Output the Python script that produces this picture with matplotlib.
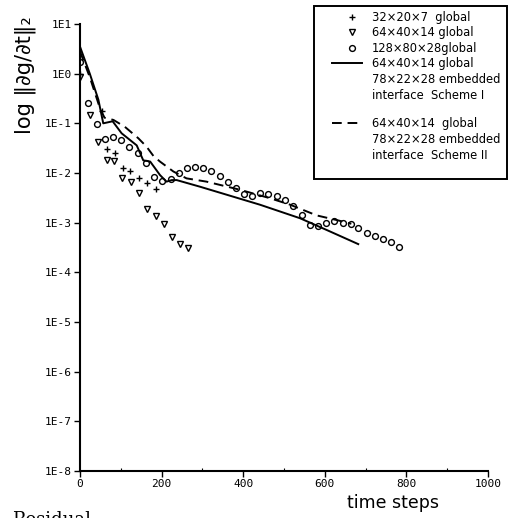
import numpy as np
import matplotlib
matplotlib.use("Agg")
import matplotlib.pyplot as plt
from matplotlib.patches import Rectangle
from matplotlib.ticker import FixedLocator, FuncFormatter, MultipleLocator

# ---- data ----
steps_32 = [0, 53, 65, 86, 105, 123, 145, 165, 186]
res_32 = [1.0, 0.18, 0.031, 0.025, 0.0124, 0.011, 0.0081, 0.0062, 0.0048]

steps_64 = [0, 24, 45, 65, 84, 103, 124, 145, 165, 186, 206, 226, 245, 264]
res_64 = [0.87, 0.15, 0.043, 0.018, 0.0177, 0.0081, 0.0065, 0.0040, 0.0019,
          0.00136, 0.00093, 0.00051, 0.00037, 0.00031]

steps_128 = [0, 20, 41, 61, 80, 100, 120, 141, 161, 182, 202, 222, 242, 262,
             282, 302, 322, 342, 362, 382, 402, 422, 441, 462, 482, 502, 523,
             543, 564, 583, 603, 623, 644, 663, 682, 703, 723, 743, 762, 782]
res_128 = [1.7, 0.26, 0.097, 0.048, 0.054, 0.046, 0.034, 0.025, 0.016, 0.0085,
           0.0070, 0.0076, 0.0102, 0.0124, 0.0134, 0.0128, 0.0112, 0.0089,
           0.0066, 0.0050, 0.0037, 0.0035, 0.0039, 0.0038, 0.0035, 0.0028,
           0.0022, 0.00143, 0.00090, 0.00086, 0.00098, 0.00107, 0.0010,
           0.00093, 0.00077, 0.00063, 0.00054, 0.00047, 0.00040, 0.00033]

steps_s1 = [0, 24, 45, 57, 80, 102, 139, 155, 172, 196, 212, 225, 237, 294,
            441, 539, 605, 682]
res_s1 = [3.5, 1.0, 0.30, 0.10, 0.11, 0.063, 0.036, 0.018, 0.017, 0.0091,
          0.0067, 0.0072, 0.0072, 0.0053, 0.0023, 0.00123, 0.00071, 0.00037]

steps_s2 = [0, 24, 49, 60, 82, 110, 143, 163, 180, 196, 229, 261, 310, 392,
            466, 515, 580, 629, 665]
res_s2 = [2.8, 0.85, 0.20, 0.13, 0.117, 0.085, 0.050, 0.034, 0.022, 0.017,
          0.0107, 0.0078, 0.0067, 0.0046, 0.0031, 0.0023, 0.0014, 0.00113,
          0.00095]

yticks = [10.0**k for k in range(1, -9, -1)]
xticks = [0, 200, 400, 600, 800, 1000]

legend_labels = ["32×20×7  global", "64×40×14 global", "128×80×28global",
                 "64×40×14 global\n78×22×28 embedded\ninterface  Scheme I",
                 "64×40×14  global\n78×22×28 embedded\ninterface  Scheme II"]

W, H = 513, 518
fig = plt.figure(figsize=(W / 100, H / 100), dpi=100)
ax = fig.add_axes([80 / W, 1 - 471 / H, (488 - 80) / W, (471 - 24) / H])

MS = 4.2
ax.plot(steps_32, res_32, ls="none", marker="+", ms=MS, mew=1.0, color="k")
ax.plot(steps_64, res_64, ls="none", marker="v", ms=MS, mew=1.0, mfc="none", color="k")
ax.plot(steps_128, res_128, ls="none", marker="o", ms=MS, mew=1.0, mfc="none", color="k")
ax.plot(steps_s1, res_s1, color="k", lw=1.4)
ax.plot(steps_s2, res_s2, color="k", lw=1.4, ls=(0, (5, 3)))

ax.set_yscale("log")
ax.set_ylim(1e-8, 1e1)
ax.set_xlim(0, 1000)
ax.yaxis.set_major_locator(FixedLocator(yticks))
ax.yaxis.set_minor_locator(FixedLocator([]))
ax.yaxis.set_major_formatter(FuncFormatter(lambda v, p: "1E%d" % int(round(np.log10(v)))))
ax.xaxis.set_major_locator(FixedLocator(xticks))
ax.xaxis.set_minor_locator(MultipleLocator(100))

for s in ["top", "right"]:
    ax.spines[s].set_visible(False)
for s in ["left", "bottom"]:
    ax.spines[s].set_linewidth(1.5)
ax.tick_params(axis="both", which="major", direction="out", length=4, width=1,
               labelsize=8, pad=2)
ax.tick_params(axis="x", which="minor", direction="in", length=2, width=0.8)
for lab in ax.get_xticklabels() + ax.get_yticklabels():
    lab.set_family("DejaVu Sans Mono")

fig.text(25 / W, 1 - 75 / H, "log ‖∂g/∂t‖₂", rotation=90, ha="center",
         va="center", fontsize=15)
fig.text(393 / W, 1 - 503 / H, "time steps", ha="center", va="center", fontsize=12.5)
fig.text(12 / W, 1 - 511 / H, "Residual", ha="left", va="top", fontsize=13,
         family="DejaVu Serif")

# ---- legend box drawn in pixel coordinates ----
lg = fig.add_axes([0, 0, 1, 1], facecolor="none")
lg.set_xlim(0, W)
lg.set_ylim(H, 0)
lg.axis("off")
lg.add_patch(Rectangle((314, 6), 193, 173, fill=False, lw=1.4, ec="k"))
rows = [17, 32, 48, 63, 123]
lg.plot([352], [rows[0]], marker="+", ms=MS, mew=1.0, color="k")
lg.plot([352], [rows[1]], marker="v", ms=MS, mew=1.0, mfc="none", color="k")
lg.plot([352], [rows[2]], marker="o", ms=MS, mew=1.0, mfc="none", color="k")
lg.plot([332, 362], [rows[3], rows[3]], color="k", lw=1.4)
lg.plot([332, 362], [rows[4], rows[4]], color="k", lw=1.4, ls=(0, (5, 3)))
for r, t in zip(rows, legend_labels):
    lg.text(372, r - 6, t, ha="left", va="top", fontsize=8.3, linespacing=1.3)

fig.savefig("out.png", dpi=100)
